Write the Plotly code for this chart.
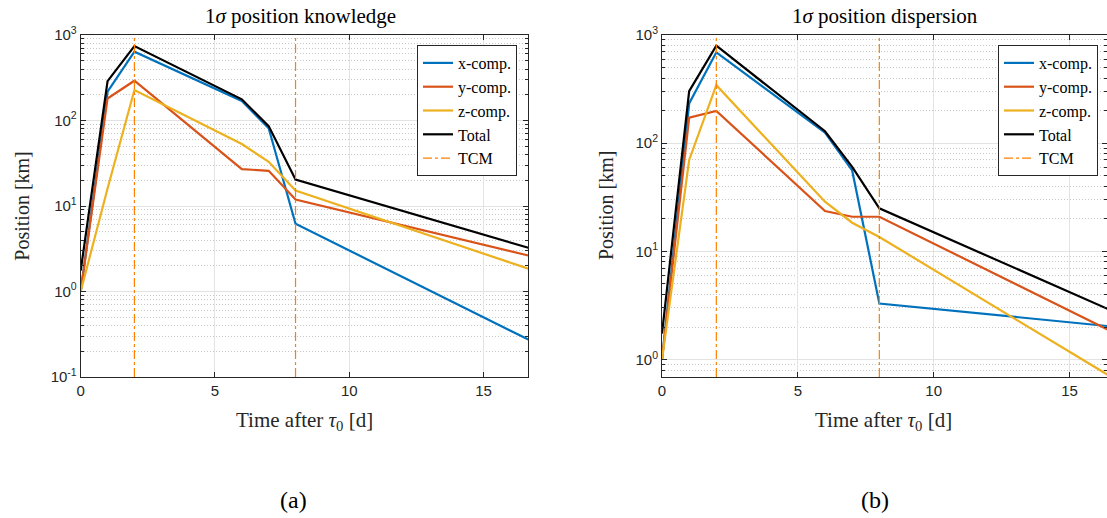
import plotly.graph_objects as go

# ---------------- data ----------------
t_days = [0, 1, 2, 6, 7, 8, 16.667]
tcm_days = [2, 8]

# (a) 1-sigma position knowledge [km]
know_x = [1.0, 217, 638, 169, 81, 6.2, 0.274]
know_y = [1.0, 181, 292, 27, 25.8, 11.9, 2.64]
know_z = [1.0, 16, 227, 53, 32.9, 15.2, 1.85]
know_tot = [1.76, 289, 743, 177, 86, 20.4, 3.25]

# (b) 1-sigma position dispersion [km]
disp_x = [1.0, 233, 692, 125, 56, 3.3, 2.01]
disp_y = [1.0, 172, 199, 23.6, 20.9, 20.9, 1.76]
disp_z = [1.0, 70, 344, 28.8, 18.4, 13.6, 0.66]
disp_tot = [1.74, 303, 796, 129, 60.4, 25, 2.75]

series_names = ["x-comp.", "y-comp.", "z-comp.", "Total"]
series_colors = ["#0072BD", "#D95319", "#EDB120", "#000000"]
tcm_color = "#FF8000"

x_ticks = [0, 5, 10, 15]
y_decades = [-1, 0, 1, 2, 3]

panel_titles = ["1<i>σ</i> position knowledge", "1<i>σ</i> position dispersion"]
x_title = "Time after <i>τ</i><sub>0</sub> [d]"
y_title = "Position [km]"
sub_labels = ["(a)", "(b)"]

# ---------------- layout constants ----------------
W, H = 1107, 518
SERIF = "Liberation Serif"
SANS = "Liberation Sans"
xdom = [[80.7 / W, 528.3 / W], [662 / W, 1.0]]
ydom = [(518 - 377) / H, (518 - 35) / H]
xranges = [[0, 16.667], [0, 16.38]]
yranges = [[-1, 3], [-0.161, 3]]

major_vals = [10.0 ** d for d in y_decades]
major_text = ["10<sup>%d</sup>" % d for d in y_decades]
minor_vals = [m * 10.0 ** d for d in range(-2, 3) for m in range(2, 10)]

fig = go.Figure()

panels = [
    (know_x, know_y, know_z, know_tot),
    (disp_x, disp_y, disp_z, disp_tot),
]

for p, data in enumerate(panels):
    xa = "x" if p == 0 else "x2"
    ya = "y" if p == 0 else "y2"
    lg = "legend" if p == 0 else "legend2"
    for name, col, vals in zip(series_names, series_colors, data):
        fig.add_trace(go.Scatter(
            x=t_days, y=vals, mode="lines", name=name,
            line=dict(color=col, width=2.2),
            xaxis=xa, yaxis=ya, legend=lg,
        ))
    # TCM vertical lines spanning the axis range
    ylo, yhi = 10 ** yranges[p][0], 10 ** yranges[p][1]
    vx, vy = [], []
    for tc in tcm_days:
        vx += [tc, tc, None]
        vy += [ylo, yhi, None]
    fig.add_trace(go.Scatter(
        x=vx, y=vy, mode="lines", name="TCM",
        line=dict(color=tcm_color, width=1.2, dash="dashdot"),
        xaxis=xa, yaxis=ya, legend=lg,
    ))

axis_common = dict(
    showline=True, linecolor="#262626", linewidth=1, mirror="allticks",
    ticks="inside", ticklen=5, tickcolor="#262626",
    tickfont=dict(family=SANS, size=15, color="#262626"),
    zeroline=False, automargin=False,
)

for p in range(2):
    sfx = "" if p == 0 else "2"
    fig.layout["xaxis" + sfx] = dict(
        axis_common, domain=xdom[p], range=xranges[p], anchor="y" + sfx,
        tickmode="array", tickvals=x_ticks, showgrid=True, gridcolor="#E3E3E3", gridwidth=1,
    )
    fig.layout["yaxis" + sfx] = dict(
        axis_common, domain=ydom, range=yranges[p], type="log", anchor="x" + sfx,
        tickmode="array", tickvals=major_vals, ticktext=major_text,
        showgrid=True, gridcolor="#E3E3E3", gridwidth=1,
        minor=dict(tickmode="array", tickvals=minor_vals, ticks="inside", ticklen=3,
                   tickcolor="#262626", showgrid=True,
                   gridcolor="#C8C8C8", griddash="1px,2px", gridwidth=1),
    )

legend_common = dict(
    font=dict(family=SERIF, size=16, color="#000000"),
    bgcolor="white", bordercolor="#262626", borderwidth=1,
    xanchor="right", yanchor="top", tracegroupgap=0, itemwidth=30,
)
fig.update_layout(
    legend=dict(legend_common, x=517 / W, y=(518 - 45) / H),
    legend2=dict(legend_common, x=1098 / W, y=(518 - 45) / H),
)

ann = []
title_x = [300 / W, 885 / W]
xlab_x = [304 / W, 883 / W]
ylab_x = [21.7 / W, 606 / W]
sub_x = [293.5 / W, 875 / W]
ymid = (ydom[0] + ydom[1]) / 2
for p in range(2):
    ann.append(dict(text=panel_titles[p], x=title_x[p], y=1 - 16 / H, xref="paper", yref="paper",
                    showarrow=False, xanchor="center", yanchor="middle",
                    font=dict(family=SERIF, size=21, color="#000000")))
    ann.append(dict(text=x_title, x=xlab_x[p], y=1 - 421 / H, xref="paper", yref="paper",
                    showarrow=False, xanchor="center", yanchor="middle",
                    font=dict(family=SERIF, size=21, color="#262626")))
    ann.append(dict(text=y_title, x=ylab_x[p], y=ymid, xref="paper", yref="paper",
                    showarrow=False, xanchor="center", yanchor="middle", textangle=-90,
                    font=dict(family=SERIF, size=20, color="#262626")))
    ann.append(dict(text=sub_labels[p], x=sub_x[p], y=1 - 500 / H, xref="paper", yref="paper",
                    showarrow=False, xanchor="center", yanchor="middle",
                    font=dict(family=SERIF, size=24, color="#000000")))

fig.update_layout(
    width=W, height=H, margin=dict(l=0, r=0, t=0, b=0, autoexpand=False),
    paper_bgcolor="white", plot_bgcolor="white",
    font=dict(family=SERIF, color="#000000"),
    annotations=ann, showlegend=True,
)

fig.write_html("out.html", config={"displayModeBar": False},
               post_script="document.body.style.margin='0';")
